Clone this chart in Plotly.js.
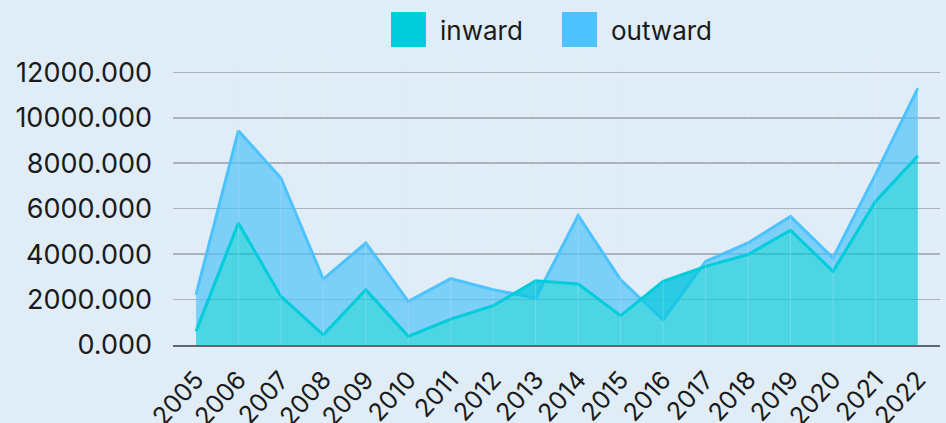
<!DOCTYPE html>
<html>
<head>
<meta charset="utf-8">
<script src="https://cdn.plot.ly/plotly-3.0.1.min.js"></script>
<style>
html,body{margin:0;padding:0;background:#E0EDF6;}
#chart{width:946px;height:423px;}
</style>
</head>
<body>
<div id="chart"></div>
<script>
const years = [2005,2006,2007,2008,2009,2010,2011,2012,2013,2014,2015,2016,2017,2018,2019,2020,2021,2022];
const yearLabels = years.map(String);
const inward = [600,5370,2140,450,2430,380,1140,1730,2830,2690,1290,2800,3460,3980,5050,3240,6320,8330];
const outward = [2210,9430,7350,2900,4490,1920,2920,2430,2070,5700,2870,1110,3680,4490,5660,3830,7500,11310];
const seriesNames = ['inward','outward'];
const yTicks = [0,2000,4000,6000,8000,10000,12000];

const FONT = 'Inter, "Noto Sans", sans-serif';
const colIn = '#00CCDB';
const colOut = '#4CC3FF';

const traces = [
  // baseline for the outward band (same inward values, invisible)
  {x: years, y: inward, type: 'scatter', mode: 'lines', line: {width: 0, color: 'rgba(0,0,0,0)'},
   hoverinfo: 'skip', showlegend: false},
  {x: years, y: outward, name: seriesNames[1], type: 'scatter', mode: 'lines',
   line: {color: colOut, width: 3}, fill: 'tonexty', fillcolor: 'rgba(77,193,248,0.68)', showlegend: false},
  {x: years, y: inward, name: seriesNames[0], type: 'scatter', mode: 'lines',
   line: {color: colIn, width: 3}, fill: 'tozeroy', fillcolor: 'rgba(0,200,217,0.66)', showlegend: false}
];

// custom legend (paper coords)
const L = 173, W = 767, B = 345, H = 284;
const px = v => (v - L) / W, py = v => (B - v) / H;
const shapes = [
  {type:'rect', xref:'paper', yref:'paper', x0:px(391), x1:px(426), y0:py(47), y1:py(12), fillcolor:colIn, line:{width:0}},
  {type:'rect', xref:'paper', yref:'paper', x0:px(562), x1:px(597), y0:py(47), y1:py(12), fillcolor:colOut, line:{width:0}}
].concat(years.map(yr => ({type:'line', xref:'x', yref:'paper', x0:yr, x1:yr, y0:0, y1:1, layer:'above',
  line:{color:'rgba(232,242,250,0.22)', width:1}})));
const annotations = [
  {xref:'paper', yref:'paper', x:px(438), y:py(30), xanchor:'left', yanchor:'middle', text:seriesNames[0], showarrow:false, font:{family:FONT, size:26, color:'#1a1a1a'}},
  {xref:'paper', yref:'paper', x:px(609), y:py(30), xanchor:'left', yanchor:'middle', text:seriesNames[1], showarrow:false, font:{family:FONT, size:26, color:'#1a1a1a'}}
];

const layout = {
  width: 946, height: 423,
  margin: {l: L, r: 946 - (L + W), t: B - H, b: 423 - B},
  paper_bgcolor: '#E0EDF6', plot_bgcolor: '#E0EDF6',
  font: {family: FONT, size: 26, color: '#1a1a1a'},
  showlegend: false,
  xaxis: {
    range: [2004.46, 2022.52], tickmode: 'array', tickvals: years, ticktext: yearLabels,
    tickangle: -48, showgrid: false,
    showline: true, linecolor: '#5d6670', linewidth: 2, zeroline: false,
    ticks: '', ticklabelstandoff: 8, tickfont: {family: FONT, size: 25, color: '#1a1a1a'}
  },
  yaxis: {
    range: [0, 12500], tickmode: 'array', tickvals: yTicks, ticktext: yTicks.map(v => v.toFixed(3)),
    showgrid: true, gridcolor: '#A9B3BD', gridwidth: 1.5, zeroline: false,
    ticks: '', ticklabelstandoff: 20, tickfont: {family: FONT, size: 27, color: '#1a1a1a'}
  },
  shapes: shapes,
  annotations: annotations
};

Plotly.newPlot('chart', traces, layout, {displayModeBar: false, staticPlot: true});
</script>
</body>
</html>
